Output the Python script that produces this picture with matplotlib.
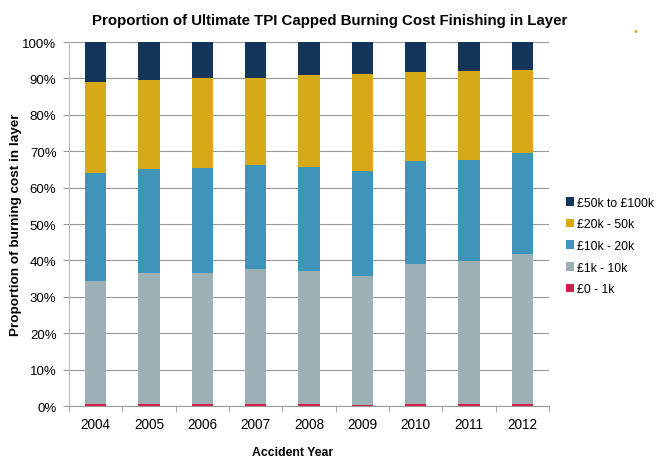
import numpy as np
import matplotlib.pyplot as plt

plt.rcParams['font.family'] = ['Liberation Sans', 'DejaVu Sans']

# =========================
# データ (%)
# =========================
years = ["2004", "2005", "2006", "2007", "2008", "2009", "2010", "2011", "2012"]
band_0_1k = [0.5, 0.5, 0.5, 0.5, 0.5, 0.4, 0.5, 0.5, 0.5]
band_1k_10k = [33.8, 36.0, 36.1, 37.2, 36.6, 35.3, 38.5, 39.3, 41.2]
band_10k_20k = [29.8, 28.5, 28.8, 28.4, 28.5, 28.9, 28.2, 27.9, 27.9]
band_20k_50k = [24.9, 24.5, 24.6, 23.9, 25.2, 26.6, 24.5, 24.3, 22.7]
band_50k_100k = [11.0, 10.5, 10.0, 10.0, 9.2, 8.8, 8.3, 8.0, 7.7]

series = [
    ("£0 - 1k", band_0_1k, "#d41d4a"),
    ("£1k - 10k", band_1k_10k, "#9db0b6"),
    ("£10k - 20k", band_10k_20k, "#3f95b9"),
    ("£20k - 50k", band_20k_50k, "#d8a917"),
    ("£50k to £100k", band_50k_100k, "#14355a"),
]

# =========================
# 描画
# =========================
fig = plt.figure(figsize=(6.59, 4.6), dpi=100)
ax = fig.add_axes([0.1047, 0.1152, 0.7284, 0.7913])

x = np.arange(len(years))
bottom = np.zeros(len(years))
handles = []
for name, vals, col in series:
    b = ax.bar(x, vals, 0.4, bottom=bottom, color=col, label=name,
               edgecolor="none", linewidth=0, zorder=3)
    handles.append(b)
    bottom += np.array(vals)

ax.set_ylim(0, 100)
ax.set_xlim(-0.5, len(years) - 0.5)
ax.set_yticks(np.arange(0, 101, 10))
ax.set_yticklabels([f"{v}%" for v in range(0, 101, 10)], fontsize=9.5)
ax.set_xticks(x)
ax.set_xticklabels(years, fontsize=9.8)
ax.set_xticks(np.arange(-0.5, len(years), 1), minor=True)
ax.tick_params(axis="x", which="major", length=0, pad=8)
ax.tick_params(axis="x", which="minor", length=4, color="#999999")
ax.tick_params(axis="y", length=4, color="#999999", pad=5)

ax.grid(axis="y", color="#999999", linewidth=0.8, zorder=0)
for s in ["top", "right"]:
    ax.spines[s].set_visible(False)
ax.spines["left"].set_color("#bbbbbb")
ax.spines["bottom"].set_color("#999999")

fig.text(0.5, 0.955, "Proportion of Ultimate TPI Capped Burning Cost Finishing in Layer",
         fontsize=10.8, fontweight="bold", ha="center", va="center")
ax.set_ylabel("Proportion of burning cost in layer", fontsize=9.7, fontweight="bold")
ax.yaxis.set_label_coords(-0.097, 0.5)
ax.set_xlabel("Accident Year", fontsize=8.8, fontweight="bold", va="center")
ax.xaxis.set_label_coords(0.465, -0.125)

leg = ax.legend(handles[::-1], [s[0] for s in series][::-1], loc="center left",
                bbox_to_anchor=(1.025, 0.44), frameon=False, fontsize=8.7,
                handlelength=0.7, handleheight=0.7, handletextpad=0.25, labelspacing=0.8,
                borderaxespad=0)

fig.text(0.965, 0.93, "•", color="#d8a917", fontsize=8, ha="center", va="center")

fig.savefig("out.png", dpi=100)
